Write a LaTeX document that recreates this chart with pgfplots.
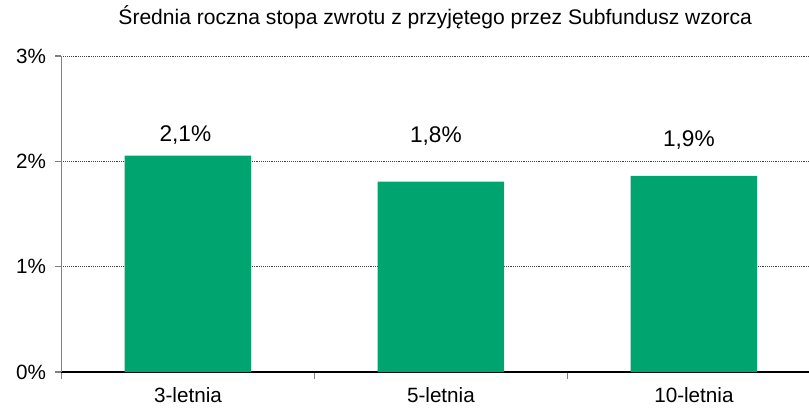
\documentclass[border=0pt]{standalone}
\usepackage{fontspec}
\setmainfont{Liberation Sans}
\usepackage{pgfplots}
\pgfplotsset{compat=1.18}
\definecolor{barGreen}{RGB}{0,164,111}
\definecolor{axGray}{RGB}{128,128,128}
\begin{document}
\begin{tikzpicture}
\begin{axis}[
    name=ax,
    scale only axis,
    width=560.6pt, height=237pt,
    xmin=-0.5, xmax=2.455,
    ymin=0, ymax=3,
    axis lines*=left,
    x axis line style={black, line width=0.9pt},
    y axis line style={axGray, line width=0.8pt},
    ytick={0,1,2,3},
    yticklabels={0\%,1\%,2\%,3\%},
    yticklabel style={font=\fontsize{15.5}{18}\selectfont, xshift=-3pt},
    ytick style={axGray, line width=0.8pt},
    tick align=outside,
    major tick length=5pt,
    xtick={0,1,2},
    xticklabels={3-letnia,5-letnia,10-letnia},
    xticklabel style={font=\fontsize{15.5}{18}\selectfont, yshift=-3pt},
    major x tick style={draw=none},
    minor xtick={-0.5,0.5,1.5},
    minor tick length=5pt,
    minor x tick style={axGray, line width=0.8pt},
    ymajorgrids,
    grid style={densely dotted, black!75, line width=0.6pt},
    title={Średnia roczna stopa zwrotu z przyjętego przez Subfundusz wzorca},
    title style={font=\fontsize{15.8}{18}\selectfont, at={(0.5,1)}, anchor=base, yshift=17.5pt},
    clip=false,
]
\addplot[ybar, bar width=0.5, fill=barGreen, draw=none] coordinates {(0,2.054) (1,1.807) (2,1.861)};
\node[anchor=base, font=\fontsize{17}{20}\selectfont] at (axis cs:-0.01,2.186) {2,1\%};
\node[anchor=base, font=\fontsize{17}{20}\selectfont] at (axis cs:0.98,2.177) {1,8\%};
\node[anchor=base, font=\fontsize{17}{20}\selectfont] at (axis cs:1.98,2.139) {1,9\%};
\end{axis}
\pgfresetboundingbox
\path ([xshift=-46.1pt,yshift=-31.5pt]ax.south west) rectangle ([yshift=42pt]ax.north east);
\end{tikzpicture}
\end{document}
